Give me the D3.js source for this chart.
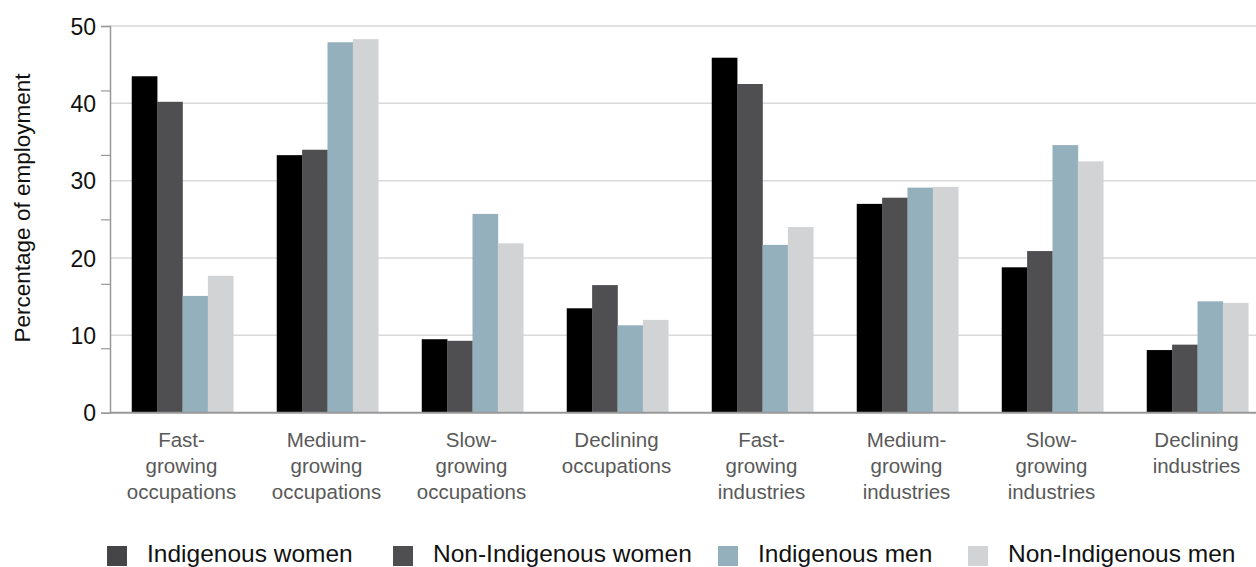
<!DOCTYPE html>
<html>
<head>
<meta charset="utf-8">
<script src="https://cdn.jsdelivr.net/npm/d3@7"></script>
<style>
  html, body { margin: 0; padding: 0; background: #fff; }
  svg { display: block; font-family: "Liberation Sans", Arial, sans-serif; }
</style>
</head>
<body>
<svg id="chart" width="1256" height="567"></svg>
<script>
const categories = [
  ["Fast-", "growing", "occupations"],
  ["Medium-", "growing", "occupations"],
  ["Slow-", "growing", "occupations"],
  ["Declining", "occupations"],
  ["Fast-", "growing", "industries"],
  ["Medium-", "growing", "industries"],
  ["Slow-", "growing", "industries"],
  ["Declining", "industries"]
];
const seriesNames = ["Indigenous women", "Non-Indigenous women", "Indigenous men", "Non-Indigenous men"];
const indigenousWomen    = [43.5, 33.3,  9.5, 13.5, 45.9, 27.0, 18.8,  8.1];
const nonIndigenousWomen = [40.2, 34.0,  9.3, 16.5, 42.5, 27.8, 20.9,  8.8];
const indigenousMen      = [15.1, 47.9, 25.7, 11.3, 21.7, 29.1, 34.6, 14.4];
const nonIndigenousMen   = [17.7, 48.3, 21.9, 12.0, 24.0, 29.2, 32.5, 14.2];
const yTickLabels = [0, 10, 20, 30, 40, 50];

const seriesValues = [indigenousWomen, nonIndigenousWomen, indigenousMen, nonIndigenousMen];

const barColors = ["#000000", "#4f4f51", "#95b0bd", "#d2d3d5"];
const legendColors = ["#454547", "#4f4f51", "#95b0bd", "#d2d3d5"];

const svg = d3.select("#chart");
const W = 1256;
const x0 = 110, yTop = 26, yBottom = 412.7;

const catKeys = categories.map((c, i) => i);
const x = d3.scaleBand().domain(catKeys).range([x0, x0 + 8 * 145]).paddingInner(0.3).paddingOuter(0.15);
const xs = d3.scaleBand().domain(d3.range(4)).range([0, x.bandwidth()]);
const y = d3.scaleLinear().domain([0, 50]).range([yBottom, yTop]);

// gridlines
svg.append("g").selectAll("line").data(yTickLabels.filter(d => d > 0)).join("line")
  .attr("x1", x0).attr("x2", W)
  .attr("y1", d => y(d)).attr("y2", d => y(d))
  .attr("stroke", "#d9d9d9").attr("stroke-width", 1.5);

// bars
const groups = svg.append("g").selectAll("g").data(catKeys).join("g")
  .attr("transform", d => `translate(${x(d)},0)`);
groups.selectAll("rect").data(i => seriesValues.map((s, k) => ({k, v: s[i]}))).join("rect")
  .attr("x", d => xs(d.k)).attr("width", xs.bandwidth() + 0.3)
  .attr("y", d => y(d.v)).attr("height", d => yBottom - y(d.v))
  .attr("fill", d => barColors[d.k]);

// y axis: tick marks (spacing as in the reference)
const yAxisMarks = d3.axisLeft(y).tickValues(d3.range(7).map(k => k * 50 / 6)).tickSize(9).tickFormat("");
const gm = svg.append("g").attr("transform", `translate(${x0},0)`).call(yAxisMarks);
gm.select(".domain").attr("stroke", "#999").attr("stroke-width", 1.5);
gm.selectAll(".tick line").attr("stroke", "#999").attr("stroke-width", 1.2);

// y axis labels
const yAxisLabels = d3.axisLeft(y).tickValues(yTickLabels).tickSize(0).tickPadding(14);
const gl = svg.append("g").attr("transform", `translate(${x0},0)`).call(yAxisLabels);
gl.select(".domain").remove();
gl.selectAll(".tick text").attr("font-size", 23).attr("fill", "#111")
  .attr("font-family", "Liberation Sans, Arial, sans-serif").attr("dy", "0.36em");

// x axis baseline
svg.append("line").attr("x1", x0).attr("x2", W).attr("y1", yBottom).attr("y2", yBottom)
  .attr("stroke", "#999").attr("stroke-width", 2);

// category labels
const xl = svg.append("g").selectAll("text").data(catKeys).join("text")
  .attr("x", d => x(d) + x.bandwidth() / 2 - 1)
  .attr("y", 447)
  .attr("text-anchor", "middle").attr("font-size", 20.5).attr("fill", "#595959");
xl.selectAll("tspan").data(d => categories[d]).join("tspan")
  .attr("x", function() { return d3.select(this.parentNode).attr("x"); })
  .attr("dy", (d, i) => i === 0 ? 0 : 26)
  .text(d => d);

// y-axis title
svg.append("text").attr("transform", "translate(30,208) rotate(-90)")
  .attr("text-anchor", "middle").attr("font-size", 22.5).attr("fill", "#111")
  .text("Percentage of employment");

// legend
const legendX = [107, 393, 718, 968];
const lg = svg.append("g").selectAll("g").data(seriesNames).join("g")
  .attr("transform", (d, i) => `translate(${legendX[i]},546)`);
lg.append("rect").attr("width", 20).attr("height", 20).attr("fill", (d, i) => legendColors[i]);
lg.append("text").attr("x", 40).attr("y", 16).attr("font-size", 24.5).attr("fill", "#111").text(d => d);
</script>
</body>
</html>
